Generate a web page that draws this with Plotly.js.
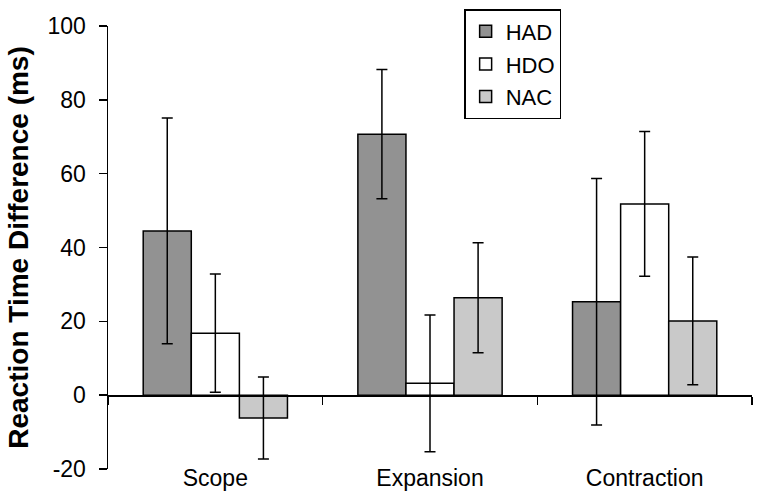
<!DOCTYPE html>
<html>
<head>
<meta charset="utf-8">
<script src="https://cdn.plot.ly/plotly-3.0.1.min.js"></script>
<style>html,body{margin:0;padding:0;background:#fff;}#chart{width:762px;height:496px;}</style>
</head>
<body>
<div id="chart"></div>
<script>
const categories = ["Scope", "Expansion", "Contraction"];
const groups = ["HAD", "HDO", "NAC"];
const hadValues = [44.5, 70.7, 25.3];
const hadErrors = [30.6, 17.5, 33.4];
const hdoValues = [16.8, 3.2, 51.8];
const hdoErrors = [16.0, 18.5, 19.6];
const nacValues = [-6.2, 26.4, 20.1];
const nacErrors = [11.1, 14.9, 17.3];
const yTicks = [-20, 0, 20, 40, 60, 80, 100];

const colors = {HAD: "#929292", HDO: "#ffffff", NAC: "#c9c9c9"};
const seriesVals = {HAD: hadValues, HDO: hdoValues, NAC: nacValues};
const seriesErr = {HAD: hadErrors, HDO: hdoErrors, NAC: nacErrors};

const traces = groups.map(g => ({
  type: "bar",
  name: g,
  x: categories,
  y: seriesVals[g],
  legendgroup: g,
  marker: {color: colors[g], line: {color: "#000", width: 1.5}},
  error_y: {type: "data", array: seriesErr[g], visible: true, color: "#000", thickness: 1.5, width: 5.5},
  hoverinfo: "skip"
}));
traces.push({
  type: "scatter", mode: "markers", x: categories, y: [0, 0, 0],
  xaxis: "x2", yaxis: "y", marker: {opacity: 0}, showlegend: false, hoverinfo: "skip"
});

const font = "Liberation Sans, Arial, sans-serif";
const layout = {
  width: 762, height: 496,
  margin: {l: 108, r: 10, t: 25, b: 27},
  paper_bgcolor: "#fff", plot_bgcolor: "#fff",
  barmode: "group", bargap: 0.328, bargroupgap: 0,
  font: {family: font, color: "#000", size: 23},
  showlegend: true,
  legend: {
    x: 0.553, y: 1.036, xanchor: "left", yanchor: "top",
    bordercolor: "#000", borderwidth: 1.5, bgcolor: "#fff",
    font: {family: font, size: 22, color: "#000"},
    tracegroupgap: 1, itemwidth: 30
  },
  xaxis: {
    type: "category", categoryarray: categories, range: [-0.5, 2.5],
    showline: false, ticks: "", showgrid: false, zeroline: false,
    tickfont: {family: font, size: 23, color: "#000"},
    ticklabelstandoff: -7, fixedrange: true
  },
  xaxis2: {
    type: "category", categoryarray: categories, range: [-0.5, 2.5],
    overlaying: "x", anchor: "free", position: 20 / 120, side: "bottom",
    showline: true, linecolor: "#000", linewidth: 1.5,
    ticks: "outside", tickson: "boundaries", ticklen: 8, tickwidth: 1.5, tickcolor: "#000",
    showticklabels: false, showgrid: false, zeroline: false
  },
  yaxis: {
    range: [-20, 100], tickvals: yTicks, ticktext: yTicks.map(String),
    showline: true, linecolor: "#000", linewidth: 1.5,
    ticks: "outside", ticklen: 8, tickwidth: 1.5, tickcolor: "#000",
    showgrid: false, zeroline: false,
    tickfont: {family: font, size: 23, color: "#000"},
    ticklabelstandoff: 8,
    title: {text: "<b>Reaction Time Difference (ms)</b>", font: {family: font, size: 28, color: "#000"}, standoff: 10}
  }
};

Plotly.newPlot("chart", traces, layout, {displayModeBar: false, staticPlot: true});
</script>
</body>
</html>
